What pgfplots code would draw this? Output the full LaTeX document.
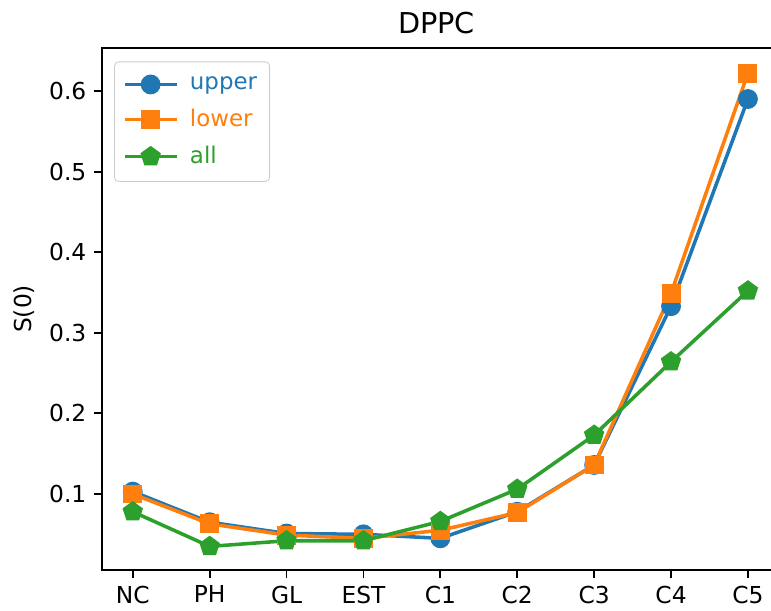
\documentclass[border=0pt]{standalone}
\usepackage{fontspec}
\setmainfont{DejaVu Sans}
\usepackage{pgfplots}
\pgfplotsset{compat=1.18}
\definecolor{c0}{HTML}{1F77B4}
\definecolor{c1}{HTML}{FF7F0E}
\definecolor{c2}{HTML}{2CA02C}
\begin{document}
\begin{tikzpicture}
\begin{axis}[
  scale only axis, width=321.1pt, height=250.6pt,
  xmin=-0.4, xmax=8.3, ymin=0.0057, ymax=0.6534,
  xtick={0,1,2,3,4,5,6,7,8},
  xticklabels={NC,PH,GL,EST,C1,C2,C3,C4,C5},
  ytick={0.1,0.2,0.3,0.4,0.5,0.6},
  xtick pos=bottom, ytick pos=left,
  yticklabel style={/pgf/number format/fixed,/pgf/number format/precision=1},
  /pgf/number format/assume math mode=true,
  tick align=outside, major tick length=4pt,
  tick style={black, line width=0.9pt},
  axis line style={draw=none},
  clip=false,
  font=\fontsize{11.2}{13}\selectfont,
  title={DPPC}, title style={font=\fontsize{13.8}{16}\selectfont, yshift=-3pt},
  ylabel={S(0)},
  legend cell align=left,
  legend style={at={(0.018,0.974)}, anchor=north west, draw=black!20, rounded corners=2pt,
    fill=white, font=\fontsize{11}{13}\selectfont, row sep=4pt, inner xsep=4pt, inner ysep=5pt},
  legend image code/.code={\draw[mark repeat=2,mark phase=2] plot coordinates {(0cm,0cm) (0.44cm,0cm) (0.88cm,0cm)};},
]
\addplot[c0, line width=1.7pt, mark=*, mark size=3.9pt, mark options={solid, fill=c0, draw=c0}] coordinates {
(0,0.103) (1,0.065) (2,0.051) (3,0.050) (4,0.045) (5,0.078) (6,0.136) (7,0.333) (8,0.590)};
\addlegendentry{\hspace{3.5pt}\textcolor{c0}{upper}}
\addplot[c1, line width=1.7pt, mark=square*, mark size=3.7pt, mark options={solid, fill=c1, draw=c1}] coordinates {
(0,0.100) (1,0.063) (2,0.049) (3,0.045) (4,0.055) (5,0.077) (6,0.136) (7,0.349) (8,0.622)};
\addlegendentry{\hspace{3.5pt}\textcolor{c1}{lower}}
\addplot[c2, line width=1.7pt, mark=pentagon*, mark size=4.1pt, mark options={solid, fill=c2, draw=c2}] coordinates {
(0,0.078) (1,0.035) (2,0.042) (3,0.042) (4,0.066) (5,0.106) (6,0.173) (7,0.264) (8,0.352)};
\addlegendentry{\hspace{3.5pt}\textcolor{c2}{all}}
\end{axis}
\draw[line width=0.9pt] (current axis.north east) -- (current axis.north west) -- (current axis.south west) -- (current axis.south east);
\pgfresetboundingbox
\useasboundingbox ([xshift=-48.96pt,yshift=-19.2pt]current axis.south west) rectangle ([yshift=23pt]current axis.north east);
\end{tikzpicture}
\end{document}
